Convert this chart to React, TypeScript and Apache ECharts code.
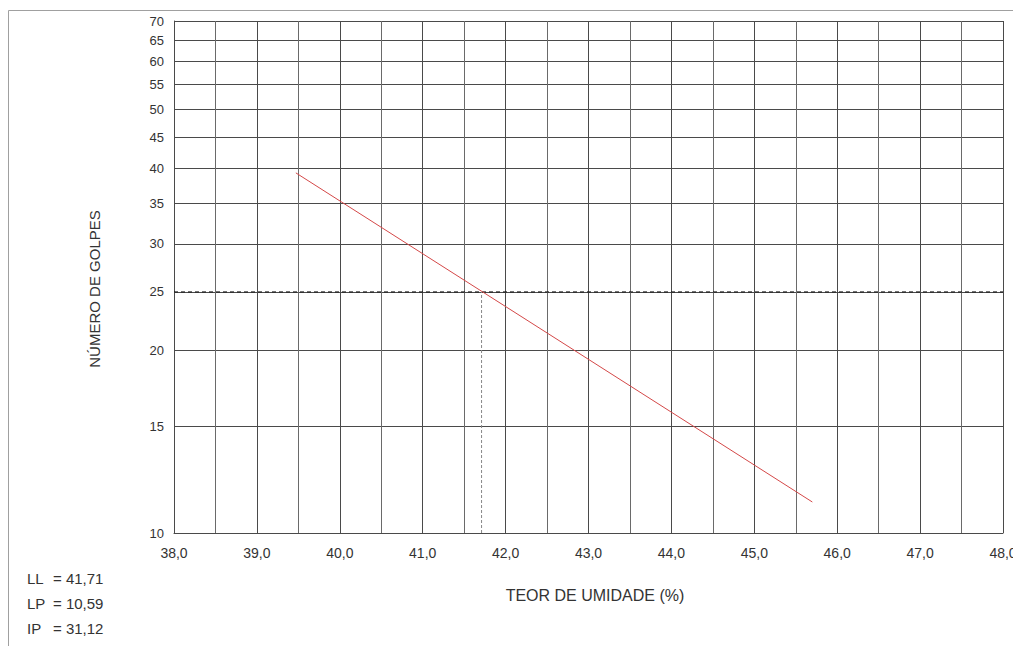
import React, { useEffect, useRef } from "react";
import * as echarts from "echarts";

const yTicks = [10, 15, 20, 25, 30, 35, 40, 45, 50, 55, 60, 65, 70];
const fitLine: [number, number][] = [
  [39.47, 39.3],
  [45.7, 11.25],
];
const llValue = 41.71;
const targetBlows = 25;
const resultLabels = ["LL", "LP", "IP"];
const resultValues = ["41,71", "10,59", "31,12"];
const xTitle = "TEOR DE UMIDADE (%)";
const yTitle = "NÚMERO DE GOLPES";

export default function App() {
  const ref = useRef<HTMLDivElement>(null);
  useEffect(() => {
    if (!ref.current) return;
    const chart = echarts.init(ref.current, null, { renderer: "svg" });
    const font = "Liberation Sans, Arial, sans-serif";
    const gridColor = "#4a4a4a";
    chart.setOption({
      animation: false,
      backgroundColor: "#ffffff",
      grid: {
        left: 174,
        top: 21,
        width: 829,
        height: 512,
        containLabel: false,
        outerBoundsMode: "none",
      },
      xAxis: {
        type: "value",
        min: 38,
        max: 48,
        interval: 1,
        axisLine: { show: true, onZero: false, lineStyle: { color: gridColor, width: 1 } },
        axisTick: { show: false },
        axisLabel: {
          fontFamily: font,
          fontSize: 14,
          color: "#333",
          margin: 13,
          hideOverlap: false,
          showMaxLabel: true,
          formatter: (v: number) => v.toFixed(1).replace(".", ","),
        },
        splitLine: { show: true, lineStyle: { color: gridColor, width: 1 } },
        minorTick: { show: false, splitNumber: 2 },
        minorSplitLine: { show: true, lineStyle: { color: "#6a6a6a", width: 1 } },
      },
      yAxis: {
        type: "log",
        logBase: 10,
        min: 10,
        max: 70,
        axisLine: { show: true, lineStyle: { color: gridColor, width: 1 } },
        axisTick: { show: false, customValues: yTicks },
        axisLabel: {
          fontFamily: font,
          fontSize: 13,
          color: "#333",
          margin: 10,
          customValues: yTicks,
          formatter: (v: number) => String(Math.round(v)),
        },
        splitLine: { show: true, lineStyle: { color: gridColor, width: 1 } },
      },
      series: [
        {
          type: "line",
          data: [
            [38, targetBlows],
            [48, targetBlows],
          ],
          symbol: "none",
          lineStyle: { color: "#111", width: 1, type: [4, 3] },
          z: 3,
        },
        {
          type: "line",
          data: [
            [llValue, 10],
            [llValue, targetBlows],
          ],
          symbol: "none",
          lineStyle: { color: "#888", width: 1, type: [3, 2] },
          z: 3,
        },
        {
          type: "line",
          data: fitLine,
          symbol: "none",
          lineStyle: { color: "#d44848", width: 1 },
          z: 4,
        },
      ],
      graphic: [
        {
          type: "rect",
          shape: { x: 8.5, y: 10.5, width: 1020, height: 700 },
          style: { fill: "none", stroke: "#a0a0a0", lineWidth: 1 },
          z: -1,
          silent: true,
        },
        {
          type: "text",
          x: 595,
          y: 595,
          style: {
            text: xTitle,
            fontFamily: font,
            fontSize: 16,
            fill: "#333",
            align: "center",
            verticalAlign: "middle",
          },
        },
        {
          type: "text",
          x: 94,
          y: 289,
          rotation: Math.PI / 2,
          style: {
            text: yTitle,
            fontFamily: font,
            fontSize: 15,
            fill: "#333",
            align: "center",
            verticalAlign: "middle",
          },
        },
        ...resultLabels.map((l, i) => ({
          type: "text",
          x: 27,
          y: 578 + i * 25,
          style: {
            text: l,
            fontFamily: font,
            fontSize: 15,
            fill: "#333",
            verticalAlign: "middle",
            align: "left",
          },
        })),
        ...resultValues.map((v, i) => ({
          type: "text",
          x: 53,
          y: 578 + i * 25,
          style: {
            text: "= " + v,
            fontFamily: font,
            fontSize: 15,
            fill: "#333",
            verticalAlign: "middle",
            align: "left",
          },
        })),
      ],
    });
    return () => chart.dispose();
  }, []);
  return (
    <div
      ref={ref}
      style={{ position: "fixed", left: 0, top: 0, width: 1013, height: 646, background: "#fff" }}
    />
  );
}
